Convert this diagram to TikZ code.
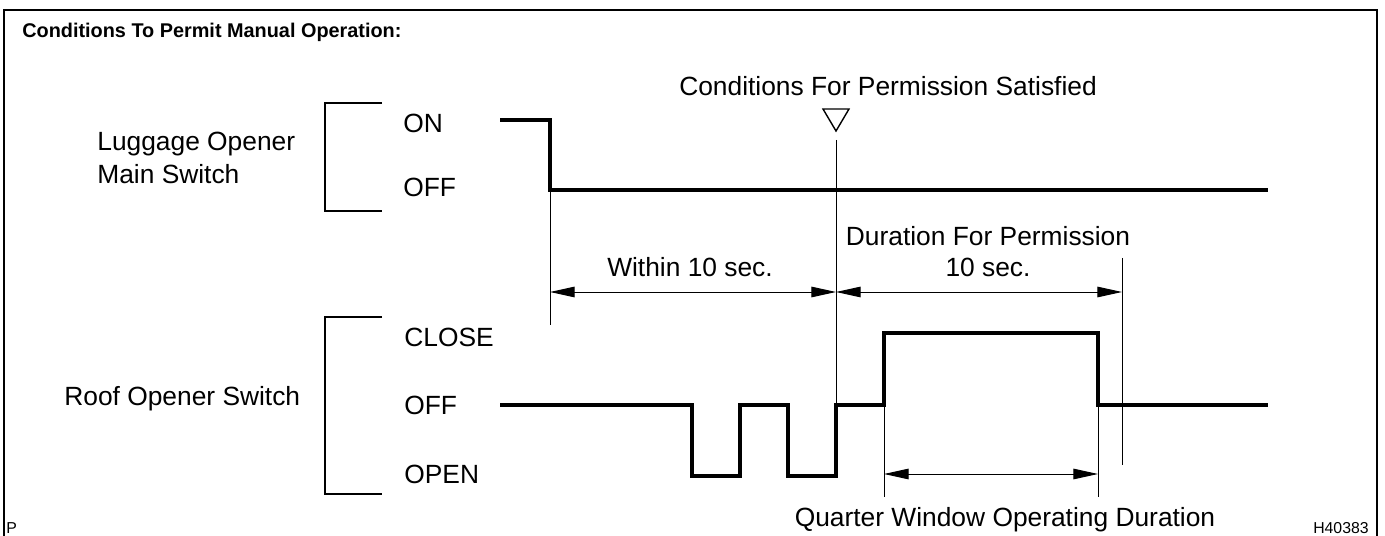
\documentclass[tikz,border=0pt]{standalone}
\usepackage{fontspec}
\setmainfont{Liberation Sans}
\usetikzlibrary{arrows.meta}

\begin{document}
\begin{tikzpicture}[x=0.02cm, y=-0.02cm, every node/.style={font=\fontsize{15}{19}\selectfont, inner sep=0pt}, >={Triangle[length=14pt,width=6pt]}, wave/.style={line width=2.2pt}, guide/.style={line width=0.55pt}, bracket/.style={line width=0.7pt}, small/.style={font=\fontsize{9}{11}\selectfont}]
	\useasboundingbox (0,0) rectangle (1385,536);
	\draw[line width=1.6pt] (4,536) -- (4,10) -- (1377,10) -- (1377,536);
	\node[anchor=base west, font=\fontsize{11.3}{13}\selectfont\bfseries] (title) at (22,38) {Conditions To Permit Manual Operation:};

	\node[anchor=base west, align=left] (lug) at (97,184) {Luggage Opener\\Main Switch};
	\draw[bracket] (382,103) -- (325,103) -- (325,211) -- (382,211);
	\node[anchor=base west] (lugon) at (403,133) {ON};
	\node[anchor=base west] (lugoff) at (403,197) {OFF};
	\draw[wave] (500,120) -| (550,190) -- (1268,190);

	\node[anchor=base west] (roof) at (64,406) {Roof Opener Switch};
	\draw[bracket] (382,317) -- (325,317) -- (325,494) -- (382,494);
	\node[anchor=base west] (close) at (404,347) {CLOSE};
	\node[anchor=base west] (roofoff) at (404,415) {OFF};
	\node[anchor=base west] (open) at (404,483) {OPEN};
	\draw[wave] (500,405) -- (692,405) |- (740,476) |- (788,405) |- (836,476) |- (884,405) |- (1098,333) |- (1268,405);

	\node[anchor=base] (sat) at (888,96) {Conditions For Permission Satisfied};
	\draw[line width=0.8pt] (823,109) -- (849,109) -- (836,131) -- cycle;

	\coordinate (lugdrop) at (550,292);
	\coordinate (okay) at (836,292);
	\coordinate (expire) at (1122,292);
	\coordinate (qstart) at (884,474);
	\coordinate (qend) at (1098,474);
	\draw[guide] (550,190) -- (550,325);
	\draw[guide] (836,140) -- (836,405);
	\draw[guide] (1122,258) -- (1122,465);
	\draw[guide] (884,405) -- (884,497);
	\draw[guide] (1098,405) -- (1098,497);

	\draw[guide, <->] (lugdrop) -- (okay);
	\draw[guide, <->] (okay) -- (expire);
	\draw[guide, <->] (qstart) -- (qend);
	\node[anchor=base] (within) at (690,277) {Within 10 sec.};
	\node[anchor=base] (dur) at (988,246) {Duration For Permission};
	\node[anchor=base] (ten) at (988,277) {10 sec.};
	\node[anchor=base] (quarter) at (1005,526) {Quarter Window Operating Duration};

	\node[small, anchor=base west] (p) at (6,533) {P};
	\node[small, anchor=base east] (code) at (1369,533) {H40383};
\end{tikzpicture}
\end{document}
